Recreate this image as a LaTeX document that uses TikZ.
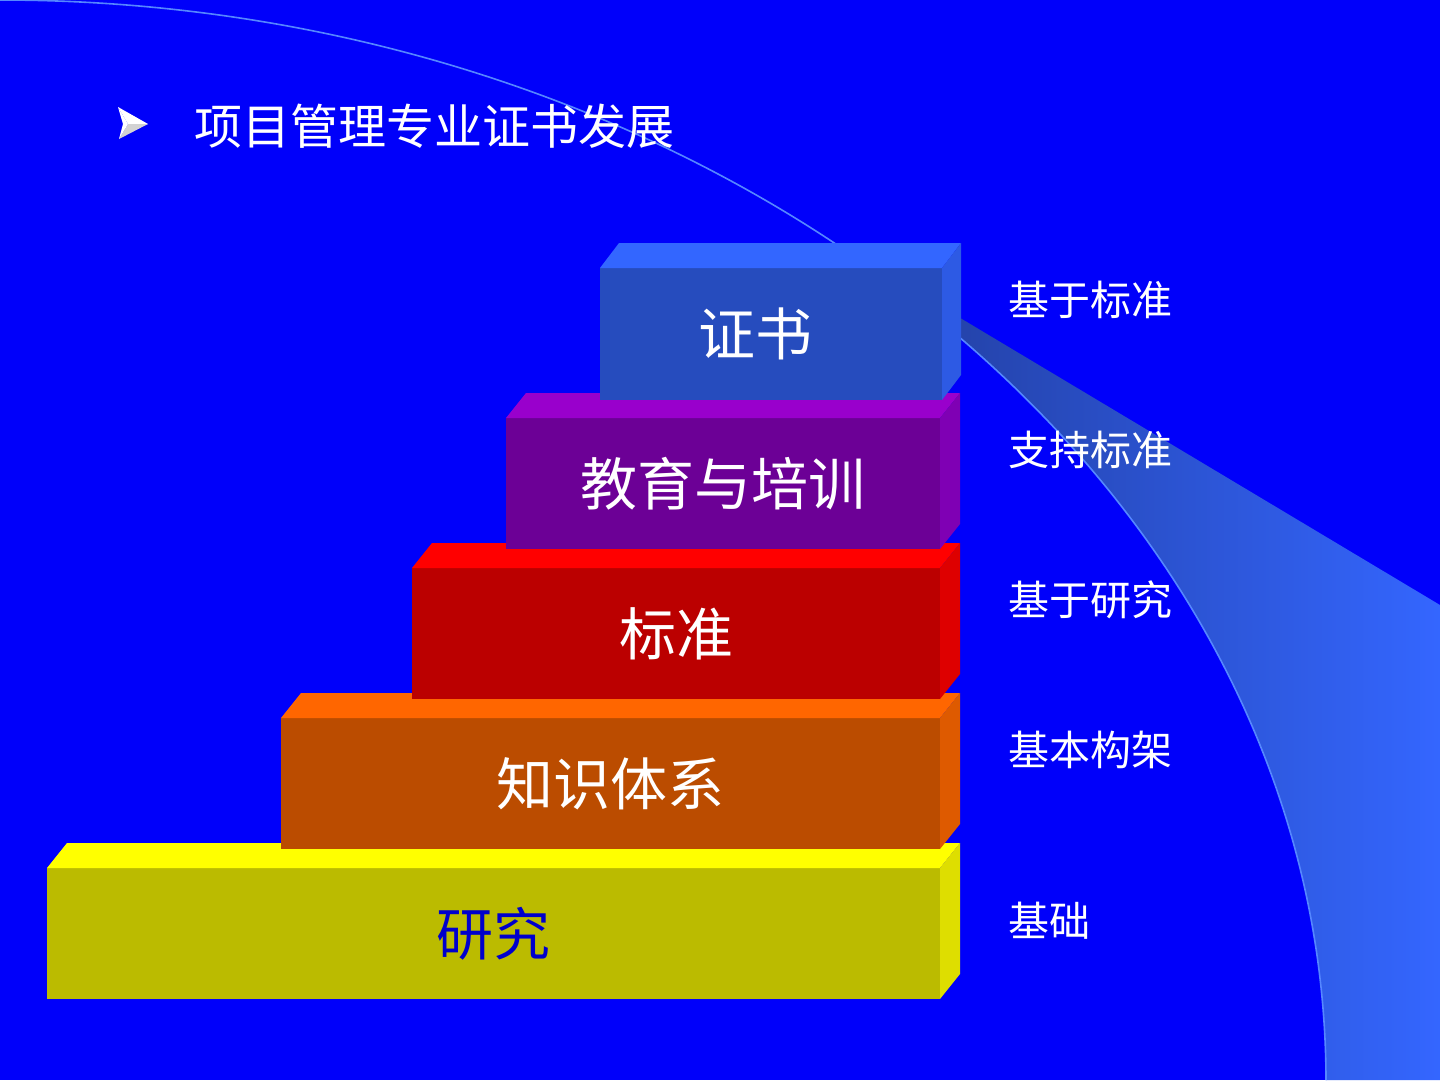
\documentclass[tikz,border=0pt]{standalone}
\usepackage{fontspec}
\newfontfamily\cjk{Noto Sans CJK SC}
\definecolor{bgblue}{RGB}{0,0,250}
\definecolor{swdark}{RGB}{34,62,158}
\definecolor{swlight}{RGB}{52,102,255}
\definecolor{swline}{RGB}{85,135,255}
% block colours: front, top, side
\definecolor{zsfront}{RGB}{38,76,190}
\definecolor{zstop}{RGB}{51,102,255}
\definecolor{zsside}{RGB}{45,90,228}
\definecolor{pxfront}{RGB}{108,0,150}
\definecolor{pxtop}{RGB}{153,0,204}
\definecolor{pxside}{RGB}{127,0,180}
\definecolor{bzfront}{RGB}{187,0,0}
\definecolor{bztop}{RGB}{255,0,0}
\definecolor{bzside}{RGB}{222,0,0}
\definecolor{txfront}{RGB}{187,76,0}
\definecolor{txtop}{RGB}{255,102,0}
\definecolor{txside}{RGB}{222,90,0}
\definecolor{yjfront}{RGB}{187,187,0}
\definecolor{yjtop}{RGB}{255,255,0}
\definecolor{yjside}{RGB}{222,222,0}

\begin{document}
\begin{tikzpicture}[x=1pt,y=-1pt,
    front/.style={inner sep=0,outer sep=0,anchor=north west,text=white,
      font=\cjk\fontsize{57}{60}\selectfont},
    sidelbl/.style={anchor=west,inner sep=0,text=white,
      font=\cjk\fontsize{41}{44}\selectfont}]
    % Background
    \useasboundingbox (0,0) rectangle (1440,1080);
    \fill[bgblue] (0,0) rectangle (1440,1080);

    % Swoosh
    \begin{scope}
        \clip (0,0) .. controls (720,0) and (1325,480) .. (1326,1080) -- (1440,1080) -- (1440,0) -- cycle;
        \shade[left color=swdark,right color=swlight] (880,270) -- (1440,605) -- (1440,1080) -- (880,1080) -- cycle;
    \end{scope}
    \draw[swline,line width=1.6] (0,0) .. controls (720,0) and (1325,480) .. (1326,1080);

    % Title
    \fill[white] (118,107) -- (148,124) -- (128,124) -- cycle;
    \fill[gray!35] (128,124) -- (148,124) -- (119,139) -- cycle;
    \fill[white] (118,107) -- (128,124) -- (119,139) -- (123,124) -- cycle;
    \node[anchor=west,inner sep=0,text=white,font=\cjk\fontsize{48}{50}\selectfont] (title) at (194,126) {项目管理专业证书发展};

    % Block 1
    \node[front,fill=yjfront,text=blue!80!black,minimum width=893,minimum height=131] (yanjiu) at (47,868) {研究};
    \fill[yjtop] (yanjiu.north west) -- ([shift={(20,-25)}]yanjiu.north west) -- ([shift={(20,-25)}]yanjiu.north east) -- (yanjiu.north east) -- cycle;
    \fill[yjside] (yanjiu.north east) -- ([shift={(20,-25)}]yanjiu.north east) -- ([shift={(20,-25)}]yanjiu.south east) -- (yanjiu.south east) -- cycle;

    % Block 2
    \node[front,fill=txfront,minimum width=659,minimum height=131] (tixi) at (281,718) {知识体系};
    \fill[txtop] (tixi.north west) -- ([shift={(20,-25)}]tixi.north west) -- ([shift={(20,-25)}]tixi.north east) -- (tixi.north east) -- cycle;
    \fill[txside] (tixi.north east) -- ([shift={(20,-25)}]tixi.north east) -- ([shift={(20,-25)}]tixi.south east) -- (tixi.south east) -- cycle;

    % Block 3
    \node[front,fill=bzfront,minimum width=528,minimum height=131] (biaozhun) at (412,568) {标准};
    \fill[bztop] (biaozhun.north west) -- ([shift={(20,-25)}]biaozhun.north west) -- ([shift={(20,-25)}]biaozhun.north east) -- (biaozhun.north east) -- cycle;
    \fill[bzside] (biaozhun.north east) -- ([shift={(20,-25)}]biaozhun.north east) -- ([shift={(20,-25)}]biaozhun.south east) -- (biaozhun.south east) -- cycle;

    % Block 4
    \node[front,fill=pxfront,minimum width=434,minimum height=131] (peixun) at (506,418) {教育与培训};
    \fill[pxtop] (peixun.north west) -- ([shift={(20,-25)}]peixun.north west) -- ([shift={(20,-25)}]peixun.north east) -- (peixun.north east) -- cycle;
    \fill[pxside] (peixun.north east) -- ([shift={(20,-25)}]peixun.north east) -- ([shift={(20,-25)}]peixun.south east) -- (peixun.south east) -- cycle;

    % Block 5
    \node[front,fill=zsfront,minimum width=342,minimum height=132] (zhengshu) at (600,268) {证书\hspace*{32pt}};
    \fill[zstop] (zhengshu.north west) -- ([shift={(19,-25)}]zhengshu.north west) -- ([shift={(19,-25)}]zhengshu.north east) -- (zhengshu.north east) -- cycle;
    \fill[zsside] (zhengshu.north east) -- ([shift={(19,-25)}]zhengshu.north east) -- ([shift={(19,-25)}]zhengshu.south east) -- (zhengshu.south east) -- cycle;

    % Labels on the right
    \node[sidelbl] (l5) at (1008,300) {基于标准};
    \node[sidelbl] (l4) at (1008,450) {支持标准};
    \node[sidelbl] (l3) at (1008,600) {基于研究};
    \node[sidelbl] (l2) at (1008,750) {基本构架};
    \node[sidelbl] (l1) at (1008,921) {基础};
\end{tikzpicture}
\end{document}
